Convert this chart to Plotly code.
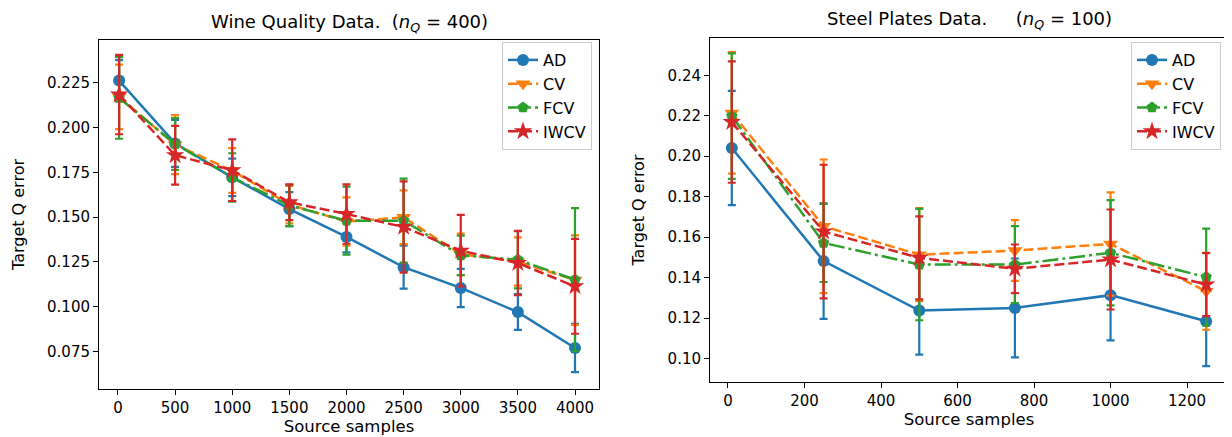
import plotly.graph_objects as go

# ---------------- Data ----------------
methods = ["AD", "CV", "FCV", "IWCV"]

wine_x = [10, 500, 1000, 1500, 2000, 2500, 3000, 3500, 4000]
wine_mean = {
    "AD":   [0.2263, 0.1912, 0.1722, 0.1545, 0.1389, 0.1220, 0.1104, 0.0969, 0.0768],
    "CV":   [0.2172, 0.1905, 0.1760, 0.1570, 0.1475, 0.1499, 0.1292, 0.1252, 0.1148],
    "FCV":  [0.2166, 0.1909, 0.1722, 0.1565, 0.1480, 0.1480, 0.1286, 0.1262, 0.1150],
    "IWCV": [0.2185, 0.1846, 0.1762, 0.1583, 0.1517, 0.1445, 0.1312, 0.1243, 0.1113],
}
wine_err = {
    "AD":   [0.0115, 0.0131, 0.0105, 0.0095, 0.0086, 0.0120, 0.0107, 0.0100, 0.0135],
    "CV":   [0.0180, 0.0165, 0.0125, 0.0105, 0.0135, 0.0150, 0.0116, 0.0135, 0.0250],
    "FCV":  [0.0228, 0.0145, 0.0135, 0.0115, 0.0190, 0.0235, 0.0110, 0.0160, 0.0400],
    "IWCV": [0.0222, 0.0164, 0.0172, 0.0100, 0.0166, 0.0255, 0.0200, 0.0180, 0.0265],
}

steel_x = [10, 250, 500, 750, 1000, 1250]
steel_mean = {
    "AD":   [0.2041, 0.1482, 0.1238, 0.1251, 0.1314, 0.1185],
    "CV":   [0.2214, 0.1654, 0.1514, 0.1534, 0.1567, 0.1333],
    "FCV":  [0.2198, 0.1572, 0.1465, 0.1465, 0.1523, 0.1403],
    "IWCV": [0.2169, 0.1628, 0.1498, 0.1444, 0.1490, 0.1366],
}
steel_err = {
    "AD":   [0.0282, 0.0285, 0.0218, 0.0244, 0.0223, 0.0222],
    "CV":   [0.0300, 0.0330, 0.0230, 0.0150, 0.0255, 0.0190],
    "FCV":  [0.0310, 0.0193, 0.0275, 0.0190, 0.0260, 0.0240],
    "IWCV": [0.0300, 0.0330, 0.0205, 0.0120, 0.0247, 0.0156],
}

wine_title = "Wine Quality Data.  (<i>n</i><sub><i>Q</i></sub> = 400)"
steel_title = "Steel Plates Data.     (<i>n</i><sub><i>Q</i></sub> = 100)"
x_label = "Source samples"
y_label = "Target Q error"

# ---------------- Styles ----------------
colors = {"AD": "#1f77b4", "CV": "#ff7f0e", "FCV": "#2ca02c", "IWCV": "#d62728"}
symbols = {"AD": "circle", "CV": "triangle-down", "FCV": "pentagon", "IWCV": "star"}
msizes = {"AD": 12, "CV": 13, "FCV": 12, "IWCV": 14}
dashes = {"AD": "solid", "CV": "10px,4px", "FCV": "16px,4px,3px,4px", "IWCV": "10px,4px"}

FONT = "DejaVu Sans"
W, H = 1232, 437

fig = go.Figure()

def add_series(xs, means, errs, xa, ya, legend):
    for m in methods:
        fig.add_trace(go.Scatter(
            x=xs, y=means[m], name=m, mode="lines+markers",
            xaxis=xa, yaxis=ya, legend=legend,
            line=dict(color=colors[m], width=2.5, dash=dashes[m]),
            marker=dict(symbol=symbols[m], size=msizes[m], color=colors[m],
                        line=dict(width=0)),
            error_y=dict(type="data", array=errs[m], visible=True,
                         color=colors[m], thickness=2.2, width=4),
        ))

add_series(wine_x, wine_mean, wine_err, "x", "y", "legend")
add_series(steel_x, steel_mean, steel_err, "x2", "y2", "legend2")

# domains in pixels
L1 = (91 / W, 591 / W)
L1y = (1 - 381 / H, 1 - 32 / H)
L2 = (702 / W, 1220 / W)
L2y = (1 - 374 / H, 1 - 30 / H)

axis_common = dict(showline=True, linecolor="black", linewidth=1, mirror=True,
                   ticks="outside", ticklen=5, tickwidth=1, tickcolor="black",
                   showgrid=False, zeroline=False,
                   tickfont=dict(family=FONT, size=15, color="black"))

legend_common = dict(xanchor="right", yanchor="top",
                     bgcolor="rgba(255,255,255,0.8)", bordercolor="#cccccc", borderwidth=1,
                     font=dict(family=FONT, size=16), tracegroupgap=0, itemwidth=30)

fig.update_layout(
    width=W, height=H,
    margin=dict(l=0, r=0, t=0, b=0),
    paper_bgcolor="white", plot_bgcolor="white",
    font=dict(family=FONT, size=15, color="black"),
    xaxis=dict(domain=list(L1), anchor="y", range=[-166, 4210], dtick=500, tick0=0,
               title=dict(text=x_label, standoff=2, font=dict(family=FONT, size=16.5)),
               **axis_common),
    yaxis=dict(domain=list(L1y), anchor="x", range=[0.0539, 0.249], dtick=0.025,
               tick0=0.075, tickformat=".3f",
               title=dict(text=y_label, standoff=18, font=dict(family=FONT, size=16)),
               **axis_common),
    xaxis2=dict(domain=list(L2), anchor="y2", range=[-47, 1307], dtick=200, tick0=0,
                title=dict(text=x_label, standoff=2, font=dict(family=FONT, size=16.5)),
                **axis_common),
    yaxis2=dict(domain=list(L2y), anchor="x2", range=[0.0885, 0.2584], dtick=0.02,
                tick0=0.10, tickformat=".2f",
                title=dict(text=y_label, standoff=18, font=dict(family=FONT, size=16)),
                **axis_common),
    legend=dict(x=584 / W, y=1 - 34 / H, **legend_common),
    legend2=dict(x=1213 / W, y=1 - 34 / H, **legend_common),
    annotations=[
        dict(text=wine_title, xref="x domain", yref="paper", x=0.5, y=1 - 15 / H,
             xanchor="center", yanchor="middle", showarrow=False,
             font=dict(family=FONT, size=18, color="black")),
        dict(text=steel_title, xref="x2 domain", yref="paper", x=0.5, y=1 - 12 / H,
             xanchor="center", yanchor="middle", showarrow=False,
             font=dict(family=FONT, size=18, color="black")),
    ],
)

fig.write_html("out.html")
